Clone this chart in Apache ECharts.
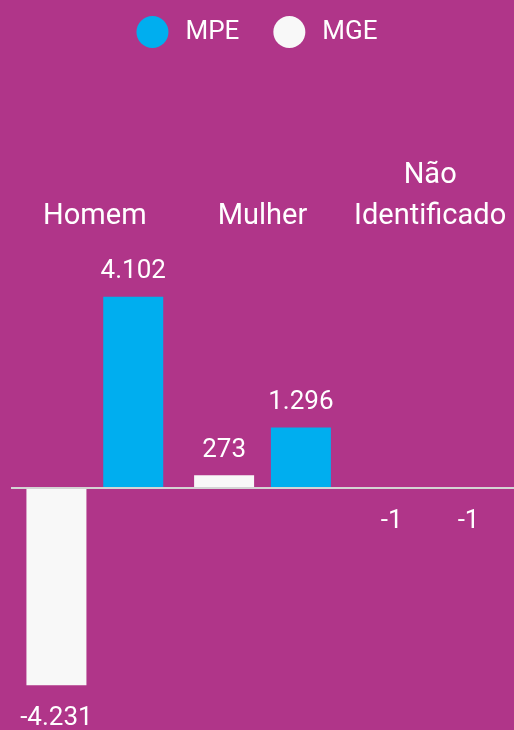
<!DOCTYPE html>
<html>
<head>
<meta charset="utf-8">
<script src="https://cdn.jsdelivr.net/npm/echarts@6/dist/echarts.min.js"></script>
<style>
  html, body { margin: 0; padding: 0; background: #b03589; }
  #barsChart { width: 514px; height: 730px; }
</style>
</head>
<body>
<div id="barsChart"></div>
<script>
const categories = ['Homem', 'Mulher', 'Não\nIdentificado']
const mgeValues = [-4231, 273, -1]
const mpeValues = [4102, 1296, -1]
const legendNames = ['MPE', 'MGE']

const fontName = 'Roboto'

// numero no formato brasileiro (4.102)
function fmt(v) {
  let s = String(Math.abs(v)).replace(/\B(?=(\d{3})+(?!\d))/g, '.')
  return (v < 0 ? '-' : '') + s
}

function buildData(values) {
  return values.map(function (v) {
    return {
      value: v,
      label: {
        position: v < 0 ? 'bottom' : 'top',
        distance: v < 0 ? 20 : 12
      }
    }
  })
}

let myChart = echarts.init(document.getElementById('barsChart'))
myChart.setOption({
  backgroundColor: '#b03589',
  textStyle: { fontFamily: fontName },
  legend: {
    data: legendNames,
    icon: 'circle',
    itemWidth: 32,
    itemHeight: 32,
    itemGap: 34,
    top: 11,
    left: 'center',
    textStyle: { color: '#ffffff', fontSize: 26, fontFamily: fontName, padding: [0, 0, 0, 12] }
  },
  grid: {
    left: 11,
    right: 0,
    top: 255,
    bottom: 9
  },
  xAxis: {
    type: 'category',
    position: 'top',
    data: categories,
    axisLine: { show: false },
    axisTick: { show: false },
    axisLabel: {
      color: '#ffffff',
      fontSize: 29,
      lineHeight: 41,
      margin: 18,
      interval: 0
    }
  },
  yAxis: {
    type: 'value',
    min: -5000,
    max: 5000,
    show: false,
    splitLine: { show: false }
  },
  series: [
    {
      name: 'MGE',
      type: 'bar',
      barWidth: 60,
      barGap: '28%',
      data: buildData(mgeValues),
      itemStyle: { color: '#f8f8f8' },
      label: {
        show: true,
        color: '#ffffff',
        fontSize: 26,
        formatter: function (p) { return fmt(p.value) }
      },
      markLine: {
        silent: true,
        symbol: 'none',
        label: { show: false },
        lineStyle: { color: '#d4d4d4', width: 2, type: 'solid' },
        data: [{ yAxis: 0 }]
      }
    },
    {
      name: 'MPE',
      type: 'bar',
      barWidth: 60,
      data: buildData(mpeValues),
      itemStyle: { color: '#00aeef' },
      label: {
        show: true,
        color: '#ffffff',
        fontSize: 26,
        formatter: function (p) { return fmt(p.value) }
      }
    }
  ]
})
</script>
</body>
</html>
